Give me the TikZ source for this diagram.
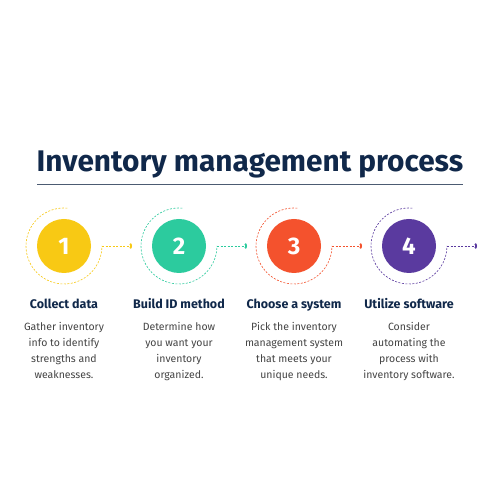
\documentclass[tikz,border=0pt]{standalone}
\usepackage{fontspec}
\setmainfont{Fira Sans}
\usetikzlibrary{arrows.meta}
\definecolor{titleblue}{HTML}{10284A}
\definecolor{rulegray}{HTML}{4C5B72}
\definecolor{bodygray}{HTML}{444444}
\definecolor{stepyellow}{HTML}{F8C914}
\definecolor{stepgreen}{HTML}{2CCB9E}
\definecolor{stepred}{HTML}{F4522D}
\definecolor{steppurple}{HTML}{5A3A9F}

\begin{document}
\begin{tikzpicture}[x=1pt,y=1pt,
  stepdot/.style={circle,minimum size=54pt,inner sep=0pt,text=white,
    font=\bfseries\fontsize{24}{24}\selectfont},
  ringline/.style={dash pattern=on 2pt off 1.5pt,line width=0.6pt},
  steptitle/.style={anchor=base,text=titleblue,
    font=\bfseries\fontsize{12.5}{14}\selectfont},
  stepbody/.style={anchor=north,align=center,text=bodygray,
    font=\fontsize{10.5}{16}\selectfont}]
\fill[white] (0,0) rectangle (500,500);
\node[anchor=base,text=titleblue,font=\bfseries\fontsize{29.8}{30}\selectfont]
  (title) at (250,328) {Inventory management process};
\coordinate (ruleL) at (37,315);
\coordinate (ruleR) at (463,315);
\draw[rulegray,line width=1pt] (ruleL) -- (ruleR);
% numbered steps with their dashed rings
\foreach \i/\x/\c in {1/64/stepyellow,2/179/stepgreen,3/294/stepred,4/409/steppurple}
  {\node[stepdot,fill=\c] (c\i) at (\x,254) {\i};
  \draw[ringline,draw=\c] ([shift={(85:38)}]c\i.center)
    arc[start angle=85,end angle=360,radius=38] coordinate (e\i);
  \coordinate (t\i) at (\x+68,254);
  \draw[ringline,draw=\c,-{Arc Barb[length=2pt,width=6pt,line width=1.8pt]}] (e\i) -- (t\i);}
% headings and texts
\foreach \i/\x/\h/\b in {
  1/64/Collect data/{Gather inventory\\info to identify\\strengths and\\weaknesses.},
  2/179/Build ID method/{Determine how\\you want your\\inventory\\organized.},
  3/294/Choose a system/{Pick the inventory\\management system\\that meets your\\unique needs.},
  4/409/Utilize software/{Consider\\automating the\\process with\\inventory software.}}
  {\node[steptitle] (h\i) at (\x,191) {\h};
  \node[stepbody] (b\i) at (\x,181) {\b};}
\end{tikzpicture}
\end{document}
